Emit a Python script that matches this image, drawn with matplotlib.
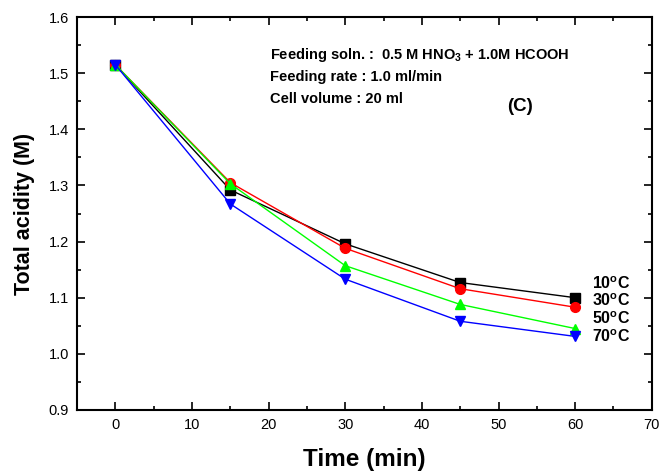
import numpy as np
import matplotlib
matplotlib.use('Agg')
import matplotlib.pyplot as plt
from matplotlib.ticker import MultipleLocator

plt.rcParams['font.family'] = ['Liberation Sans', 'DejaVu Sans']
plt.rcParams['mathtext.fontset'] = 'custom'
plt.rcParams['mathtext.rm'] = 'Liberation Sans'
plt.rcParams['mathtext.bf'] = 'Liberation Sans:bold'

# data
time = [0, 15, 30, 45, 60]
acid_10 = [1.515, 1.292, 1.196, 1.127, 1.100]
acid_30 = [1.515, 1.305, 1.188, 1.116, 1.083]
acid_50 = [1.515, 1.303, 1.157, 1.088, 1.045]
acid_70 = [1.515, 1.267, 1.133, 1.058, 1.031]
labels = ['10', '30', '50', '70']

fig = plt.figure(figsize=(6.59, 4.75), dpi=100)
ax = fig.add_axes([0.117, 0.137, 0.872, 0.827])

series = [(acid_10, 'k', 's'), (acid_30, 'r', 'o'),
          (acid_50, '#00ff00', '^'), (acid_70, '#0000ff', 'v')]
for ys, c, m in series:
    ax.plot(time, ys, color=c, marker=m, markersize=7, linewidth=1)

# temperature labels next to the last points
lab_y = [1.125, 1.094, 1.062, 1.031]
for lab, y in zip(labels, lab_y):
    ax.text(62.2, y, lab + r'$^{\mathbf{o}}$C', fontsize=11.5, fontweight='bold', va='center')

ax.text(20.2, 1.532, 'Feeding soln. :  0.5 M HNO$_{\\mathbf{3}}$ + 1.0M HCOOH',
        fontsize=10.5, fontweight='bold', va='center')
ax.text(20.2, 1.493, 'Feeding rate : 1.0 ml/min', fontsize=10.5, fontweight='bold', va='center')
ax.text(20.2, 1.454, 'Cell volume : 20 ml', fontsize=10.5, fontweight='bold', va='center')
ax.text(52.8, 1.440, '(C)', fontsize=13.5, fontweight='bold', va='center', ha='center')

ax.set_xlim(-5, 70)
ax.set_ylim(0.9, 1.6)
ax.xaxis.set_major_locator(MultipleLocator(10))
ax.xaxis.set_minor_locator(MultipleLocator(5))
ax.yaxis.set_major_locator(MultipleLocator(0.1))
ax.yaxis.set_minor_locator(MultipleLocator(0.05))
ax.yaxis.set_major_formatter(matplotlib.ticker.FormatStrFormatter('%.1f'))
ax.tick_params(which='both', direction='in', top=True, right=True, labelsize=10.5, width=1.2)
ax.tick_params(which='major', length=6, pad=6)
ax.tick_params(which='minor', length=3)
for s in ax.spines.values():
    s.set_linewidth(1.5)

ax.set_xlabel('Time (min)', fontsize=17.5, fontweight='bold', labelpad=11)
ax.set_ylabel('Total acidity (M)', fontsize=15.5, fontweight='bold', labelpad=10)

fig.savefig('out.png', dpi=100)
